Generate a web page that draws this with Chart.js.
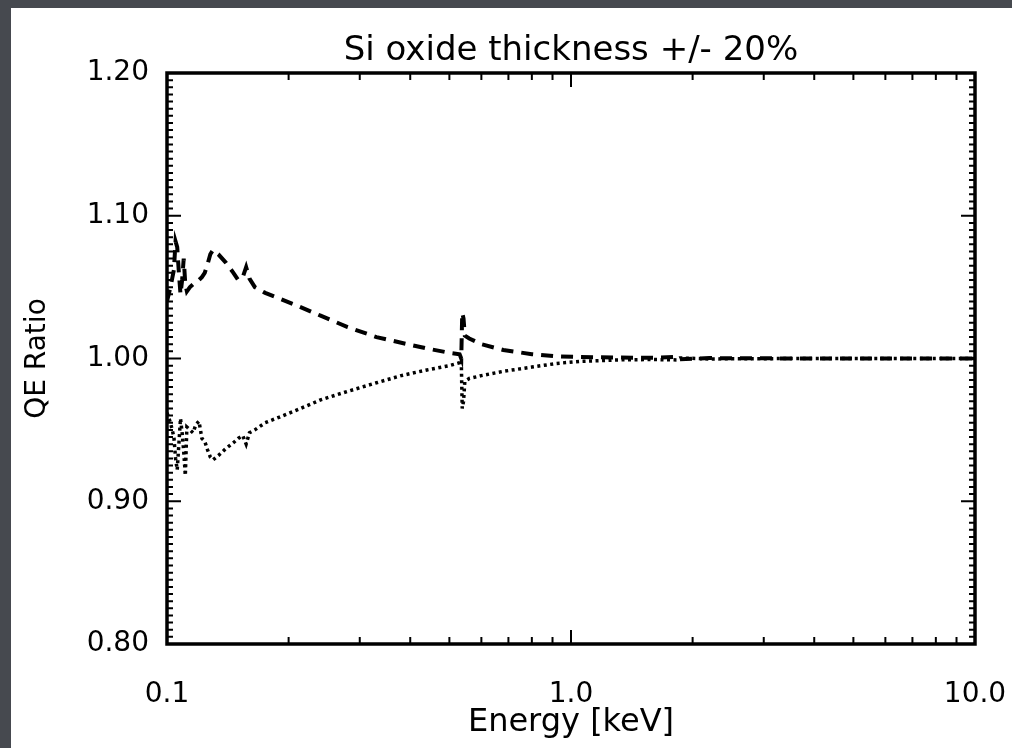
<!DOCTYPE html>
<html>
<head>
<meta charset="utf-8">
<script src="https://cdn.jsdelivr.net/npm/chart.js@4.4.0/dist/chart.umd.min.js"></script>
<style>
    body { margin: 0; background: #46494f; }
    #wrap { position: absolute; left: 11px; top: 8px; width: 1001px; height: 740px; background: #fff; }
</style>
</head>
<body>
<div id="wrap"><canvas id="myChart" width="1001" height="740"></canvas></div>
<script>
// energy in keV, shared by both curves
let energy = [
    0.100, 0.102, 0.104, 0.105, 0.106, 0.107, 0.108, 0.109, 0.110, 0.111,
    0.112, 0.114, 0.116, 0.118, 0.120, 0.122, 0.124, 0.126, 0.128, 0.130,
    0.134, 0.140, 0.146, 0.150, 0.154, 0.157, 0.160, 0.165, 0.175, 0.19,
    0.21, 0.24, 0.28, 0.33, 0.38, 0.44, 0.50, 0.530, 0.535, 0.538,
    0.542, 0.546, 0.56, 0.60, 0.68, 0.80, 0.92, 1.05, 1.3, 1.6,
    1.83, 1.84, 1.86, 2.2, 3.0, 5.0, 10.0
];

// oxide 20% thinner (dashed)
let thinner = [
    1.040, 1.050, 1.062, 1.082, 1.078, 1.060, 1.045, 1.055, 1.070, 1.052,
    1.047, 1.050, 1.052, 1.054, 1.055, 1.057, 1.060, 1.066, 1.073, 1.076,
    1.073, 1.067, 1.060, 1.055, 1.057, 1.064, 1.056, 1.050, 1.046, 1.042,
    1.037, 1.030, 1.022, 1.015, 1.011, 1.007, 1.004, 1.003, 1.000, 1.032,
    1.028, 1.016, 1.014, 1.010, 1.006, 1.003, 1.0015, 1.001, 1.0007, 1.0005,
    1.0012, 1.0002, 0.9995, 1.0003, 1.0001, 1.000, 1.000
];

// oxide 20% thicker (dotted)
let thicker = [
    0.962, 0.955, 0.945, 0.930, 0.922, 0.940, 0.958, 0.948, 0.935, 0.918,
    0.952, 0.950, 0.948, 0.954, 0.956, 0.944, 0.942, 0.936, 0.931, 0.929,
    0.932, 0.937, 0.941, 0.944, 0.946, 0.940, 0.948, 0.950, 0.955, 0.959,
    0.964, 0.971, 0.977, 0.983, 0.988, 0.992, 0.995, 0.997, 0.999, 0.965,
    0.970, 0.984, 0.986, 0.988, 0.991, 0.994, 0.9965, 0.998, 0.999, 0.9993,
    0.9990, 0.9998, 1.0004, 0.9997, 0.9999, 1.000, 1.000
];

let xTicks = [0.1, 1, 10];
let yMin = 0.8;
let yMax = 1.2;
let yStep = 0.1;

// IDL style frame with inward ticks on all four sides
const frameTicks = {
    id: "frameTicks",
    afterDatasetsDraw(chart) {
        let ctx = chart.ctx;
        let a = chart.chartArea;
        let xs = chart.scales.x;
        let ys = chart.scales.y;
        ctx.save();
        ctx.strokeStyle = "#000";
        ctx.lineWidth = 2;
        ctx.beginPath();
        for (let i = 0; i <= 80; i++) {
            let py = ys.getPixelForValue(yMin + i * 0.005);
            let len = i % 20 === 0 ? 14 : 6;
            ctx.moveTo(a.left, py); ctx.lineTo(a.left + len, py);
            ctx.moveTo(a.right, py); ctx.lineTo(a.right - len, py);
        }
        [0.1, 1].forEach(dec => {
            for (let m = 1; m <= 10; m++) {
                let px = xs.getPixelForValue(dec * m);
                let len = (m === 1 || m === 10) ? 14 : 7;
                ctx.moveTo(px, a.bottom); ctx.lineTo(px, a.bottom - len);
                ctx.moveTo(px, a.top); ctx.lineTo(px, a.top + len);
            }
        });
        ctx.stroke();
        ctx.lineWidth = 3.5;
        ctx.strokeRect(a.left, a.top, a.right - a.left, a.bottom - a.top);
        ctx.restore();
    }
};

let chart = new Chart(document.getElementById("myChart"), {
    type: "scatter",
    data: {
        datasets: [
            {
                data: energy.map((e, i) => ({ x: e, y: thinner[i] })),
                showLine: true,
                borderColor: "#000",
                borderWidth: 4,
                borderDash: [12, 8],
                pointRadius: 0,
                tension: 0
            },
            {
                data: energy.map((e, i) => ({ x: e, y: thicker[i] })),
                showLine: true,
                borderColor: "#000",
                borderWidth: 3.5,
                borderDash: [3, 3.5],
                pointRadius: 0,
                tension: 0
            }
        ]
    },
    options: {
        responsive: false,
        animation: false,
        layout: { padding: { left: 0, right: 37, top: 0, bottom: 0 } },
        plugins: {
            legend: { display: false },
            tooltip: { enabled: false },
            title: {
                display: true,
                fullSize: false,
                text: "Si oxide thickness +/- 20%",
                color: "#000",
                font: { family: "DejaVu Sans", size: 34, weight: "normal" },
                padding: { top: 23, bottom: 1.2 }
            }
        },
        scales: {
            x: {
                type: "logarithmic",
                min: 0.1,
                max: 10,
                afterBuildTicks: s => { s.ticks = xTicks.map(v => ({ value: v })); },
                afterFit: s => { s.height = 104; s.paddingLeft = 0; s.paddingRight = 0; },
                grid: { display: false },
                border: { display: false },
                ticks: {
                    color: "#000",
                    autoSkip: false,
                    maxRotation: 0,
                    padding: 26,
                    font: { family: "DejaVu Sans", size: 28 },
                    callback: v => Number(v).toFixed(1)
                },
                title: {
                    display: true,
                    text: "Energy [keV]",
                    color: "#000",
                    font: { family: "DejaVu Sans", size: 32 },
                    padding: { top: 0, bottom: 6 }
                }
            },
            y: {
                min: yMin,
                max: yMax,
                afterFit: s => { s.width = 156; s.paddingTop = 0; s.paddingBottom = 0; },
                grid: { display: false },
                border: { display: false },
                ticks: {
                    color: "#000",
                    stepSize: yStep,
                    padding: 10,
                    font: { family: "DejaVu Sans", size: 28 },
                    callback: v => Number(v).toFixed(2)
                },
                title: {
                    display: true,
                    text: "QE Ratio",
                    color: "#000",
                    font: { family: "DejaVu Sans", size: 28 },
                    padding: { top: 10, bottom: 0 }
                }
            }
        }
    },
    plugins: [frameTicks]
});
</script>
</body>
</html>
